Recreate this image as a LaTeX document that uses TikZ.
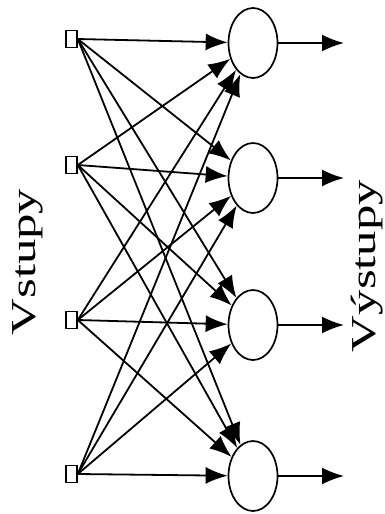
\documentclass[tikz,border=0pt]{standalone}
\usepackage{fontspec}
\setmainfont{Liberation Serif}
\usetikzlibrary{arrows.meta,shapes.geometric}
\begin{document}
\begin{tikzpicture}[
    x=1pt, y=-1pt,
    inp/.style={draw, line width=1.6pt, minimum width=11pt, minimum height=17pt, inner sep=0pt},
    neuron/.style={ellipse, draw, line width=1.7pt, minimum width=49pt, minimum height=70pt, inner sep=0pt},
    conn/.style={-{Latex[length=22pt,width=17pt]}, line width=1.8pt},
    lab/.style={font=\fontsize{35}{40}\selectfont, inner sep=0pt, rotate=90, anchor=base},
]
    \useasboundingbox (0,0) rectangle (384,514);
    % inputs
    \foreach \i/\y in {1/39, 2/165, 3/320, 4/474}
        \node[inp] (in\i) at (71.5,\y) {};
    % neurons
    \foreach \i/\y in {1/43, 2/178, 3/325, 4/476} {
        \node[neuron] (n\i) at (253,\y) {};
        \coordinate (out\i) at (344,\y);
    }
    % every input to every neuron
    \foreach \i in {1,...,4}
        \foreach \j in {1,...,4}
            \draw[conn] (in\i.east) -- (n\j);
    % outputs
    \foreach \i in {1,...,4}
        \draw[conn] (n\i) -- (out\i);
    % labels
    \node[lab] (vstupy) at (35,262) {\scalebox{1.45}[1]{Vstupy}};
    \node[lab] (vystupy) at (375,266) {\scalebox{1.45}[1]{Výstupy}};
\end{tikzpicture}
\end{document}
